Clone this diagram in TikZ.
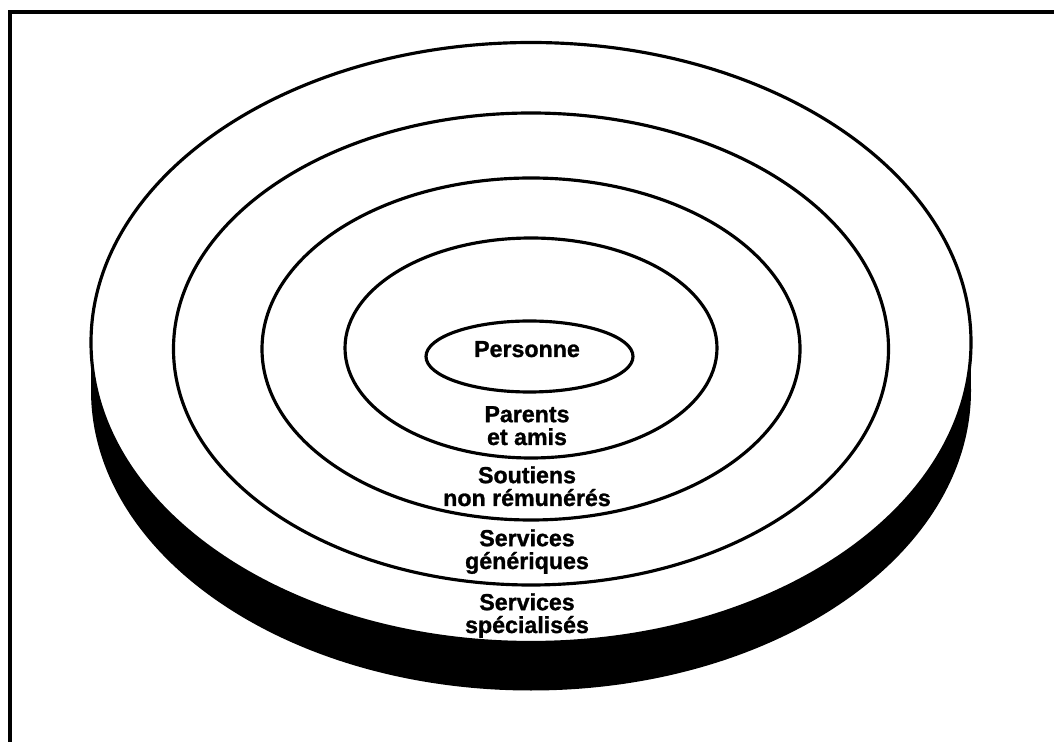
\documentclass[tikz,border=0pt]{standalone}
\usepackage{fontspec}
\setmainfont{Liberation Sans}[BoldFeatures={FakeBold=1.2}]
\usetikzlibrary{positioning}

\begin{document}
\begin{tikzpicture}[x=0.02cm, y=-0.02cm,
  ring/.style={line width=1.8pt},
  ringlabel/.style={font=\fontsize{13.2}{13}\selectfont\bfseries, align=center, anchor=base, inner sep=0pt}]
\useasboundingbox (0,0) rectangle (1054,742);

% Frame
\draw[line width=2.2pt] (1054,12) -- (10,12) -- (10,742);

% Disc edge
\fill (531,390.5) ellipse [x radius=440, y radius=300];
\fill (91,342.5) rectangle (971,390.5);

% Rings
\draw[ring, fill=white] (531,342.5) ellipse [x radius=440, y radius=300];
\draw[ring] (531,349) ellipse [x radius=357.5, y radius=236];
\draw[ring] (531,349) ellipse [x radius=269, y radius=171];
\draw[ring] (531,348) ellipse [x radius=186, y radius=110];
\draw[ring] (529.5,356.5) ellipse [x radius=103.5, y radius=35.5];

% Labels (base = last line)
\node[ringlabel] (personne) at (527,357) {Personne};
\node[ringlabel] (parents) at (527,445) {Parents\\et amis};
\node[ringlabel] (soutiens) at (527,506) {Soutiens\\non rémunérés};
\node[ringlabel] (generiques) at (527,569) {Services\\génériques};
\node[ringlabel] (specialises) at (527,633) {Services\\spécialisés};

\end{tikzpicture}
\end{document}
